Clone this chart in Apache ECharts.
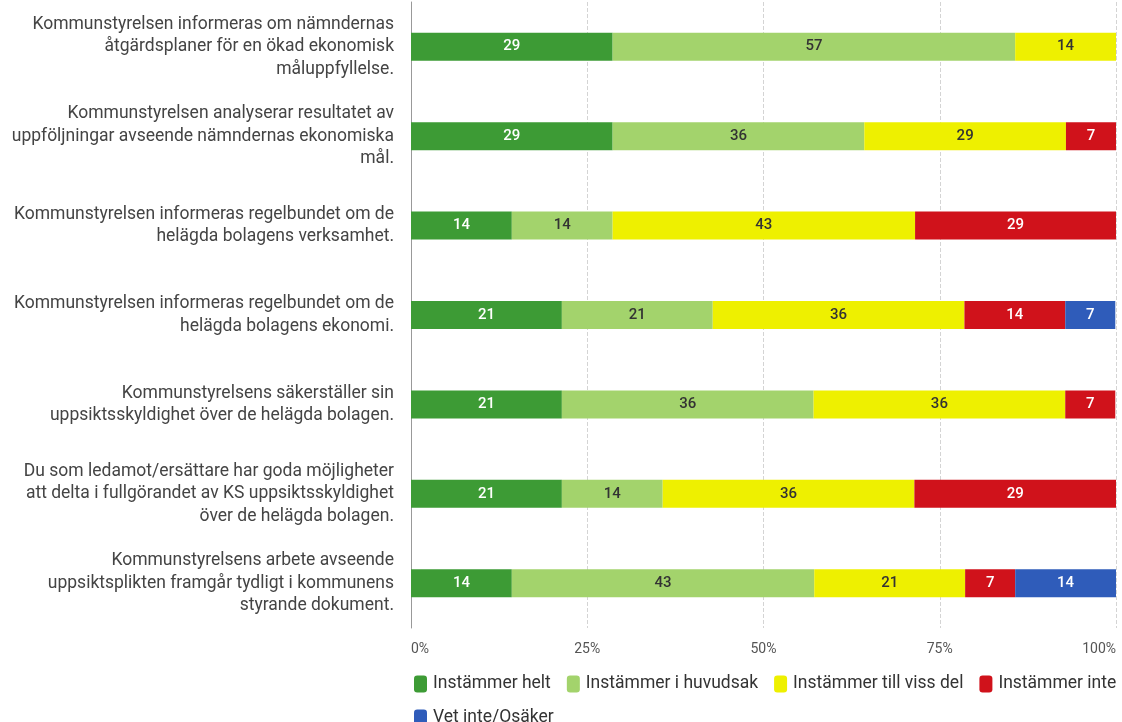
<!DOCTYPE html>
<html>
<head>
<meta charset="utf-8">
<script src="https://cdn.jsdelivr.net/npm/echarts@6/dist/echarts.min.js"></script>
<style>
  html, body { margin: 0; padding: 0; background: #fff; }
  #chart { width: 1122px; height: 722px; }
</style>
</head>
<body>
<div id="chart"></div>
<script>
// påståenden (y-axel, uppifrån och ned)
const categories = [
  'Kommunstyrelsen informeras om nämndernas\nåtgärdsplaner för en ökad ekonomisk\nmåluppfyllelse.',
  'Kommunstyrelsen analyserar resultatet av\nuppföljningar avseende nämndernas ekonomiska\nmål.',
  'Kommunstyrelsen informeras regelbundet om de\nhelägda bolagens verksamhet.',
  'Kommunstyrelsen informeras regelbundet om de\nhelägda bolagens ekonomi.',
  'Kommunstyrelsens säkerställer sin\nuppsiktsskyldighet över de helägda bolagen.',
  'Du som ledamot/ersättare har goda möjligheter\natt delta i fullgörandet av KS uppsiktsskyldighet\növer de helägda bolagen.',
  'Kommunstyrelsens arbete avseende\nuppsiktsplikten framgår tydligt i kommunens\nstyrande dokument.'
];

// andel i procent per svarsalternativ
const helt      = [28.6, 28.6, 14.3, 21.4, 21.4, 21.4, 14.3];
const huvudsak  = [57.1, 35.7, 14.3, 21.4, 35.7, 14.3, 42.9];
const vissDel   = [14.3, 28.6, 42.9, 35.7, 35.7, 35.7, 21.4];
const inte      = [0, 7.1, 28.6, 14.3, 7.1, 28.6, 7.1];
const vetInte   = [0, 0, 0, 7.1, 0, 0, 14.3];

const seriesNames = ['Instämmer helt', 'Instämmer i huvudsak', 'Instämmer till viss del', 'Instämmer inte', 'Vet inte/Osäker'];
const seriesData = [helt, huvudsak, vissDel, inte, vetInte];
const colors = ['#3d9b35', '#a3d36c', '#eef000', '#d0121b', '#2f5cba'];
const labelColors = ['#ffffff', '#333333', '#333333', '#ffffff', '#ffffff'];

const FONT = 'Roboto, sans-serif';

const chart = echarts.init(document.getElementById('chart'));

const legendBase = {
  itemWidth: 13,
  itemHeight: 17,
  itemGap: 16,
  icon: 'roundRect',
  textStyle: { fontFamily: FONT, fontSize: 17.5, color: '#333', padding: [0, 0, 0, 1] }
};

const option = {
  animation: false,
  color: colors,
  grid: { left: 411, right: 6, top: 2, bottom: 94, containLabel: false },
  legend: [
    Object.assign({}, legendBase, { data: seriesNames.slice(0, 4), left: 409, top: 670 }),
    Object.assign({}, legendBase, { data: seriesNames.slice(4), left: 409, top: 704 })
  ],
  xAxis: {
    type: 'value',
    min: 0,
    max: 100,
    interval: 25,
    axisLine: { show: false },
    axisTick: { show: false },
    splitLine: { show: true, lineStyle: { color: '#d4d4d4', type: 'dashed', width: 1 } },
    axisLabel: {
      formatter: '{value}%',
      fontFamily: FONT,
      fontSize: 14,
      color: '#555',
      margin: 14,
      alignMinLabel: 'left',
      alignMaxLabel: 'right'
    }
  },
  yAxis: {
    type: 'category',
    data: categories,
    inverse: true,
    axisLine: { show: true, lineStyle: { color: '#999', width: 1 } },
    axisTick: { show: false },
    axisLabel: {
      fontFamily: FONT,
      fontSize: 17.5,
      color: '#444',
      lineHeight: 22.5,
      margin: 17,
      align: 'right'
    }
  },
  series: seriesData.map((d, i) => ({
    name: seriesNames[i],
    type: 'bar',
    stack: 'total',
    barWidth: 28,
    data: d,
    label: {
      show: true,
      position: 'inside',
      fontFamily: FONT,
      fontSize: 15,
      fontWeight: 500,
      color: labelColors[i],
      formatter: p => (p.value > 0 ? Math.round(p.value) : '')
    }
  }))
};

chart.setOption(option);
</script>
</body>
</html>
